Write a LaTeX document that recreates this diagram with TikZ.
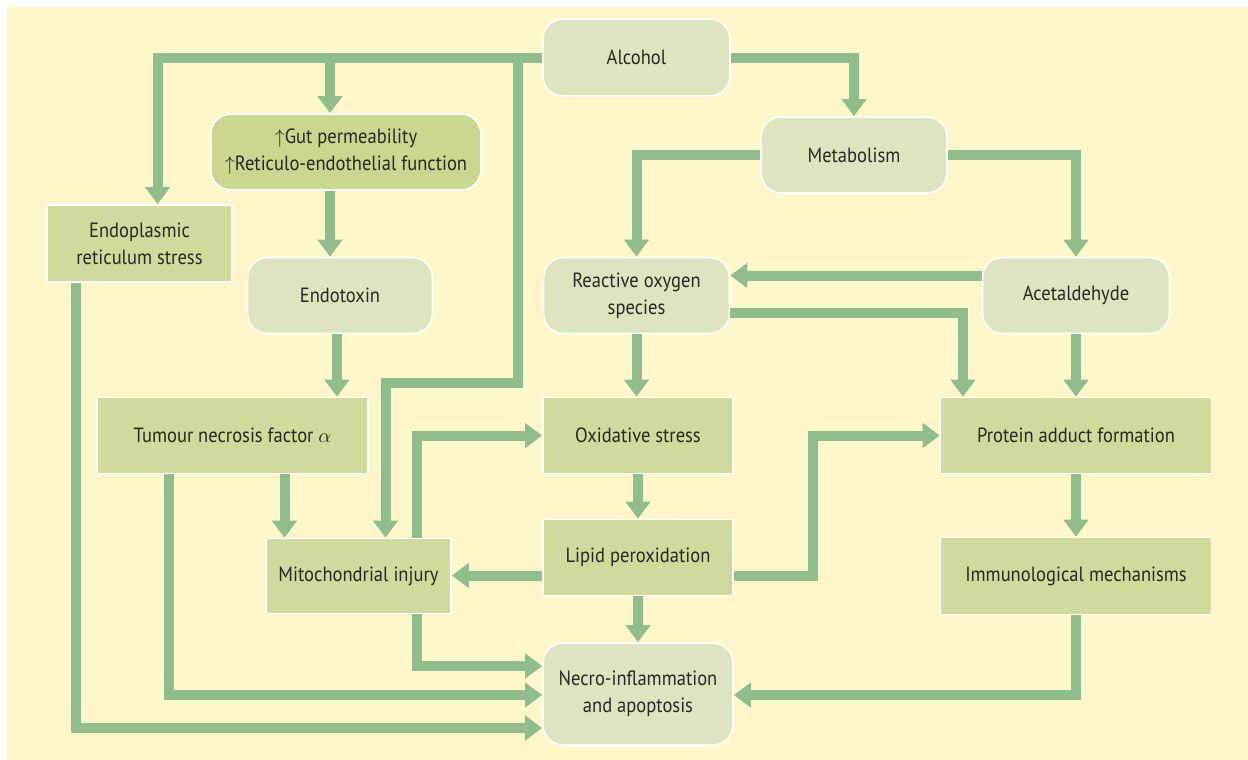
\documentclass[tikz,border=0pt]{standalone}
\usepackage{fontspec}
\setmainfont{PT Sans}[FakeStretch=0.9]
\usepackage{xcolor}
\usepackage{tikz}
\usetikzlibrary{arrows.meta}
\definecolor{bgyellow}{RGB}{255,247,202}
\definecolor{lightbox}{RGB}{221,229,192}
\definecolor{darkbox}{RGB}{206,219,155}
\definecolor{gutbox}{RGB}{201,215,143}
\definecolor{flowgreen}{RGB}{143,190,140}
\definecolor{boxtext}{RGB}{40,40,35}
\tikzset{ box/.style = {draw=white, line width=0.8pt, inner sep=0pt, align=center, text=boxtext, font=\fontsize{10.3pt}{13.5pt}\selectfont} }
\tikzset{ round_box/.style = {box, rounded corners=10pt, fill=lightbox} }
\tikzset{ rect_box/.style = {box, fill=darkbox} }
\tikzset{ flow/.style = {draw=flowgreen, line width=5pt, -{Triangle[width=12pt,length=8.5pt]}} }

\begin{document}
\begin{tikzpicture}[x=0.5pt, y=-0.5pt]
            \useasboundingbox (0,0) rectangle (1248,760);
            \fill[white] (0,0) rectangle (1248,760);
            \fill[bgyellow] (7,7) rectangle (1248,760);
            \node[round_box, minimum width=93.5pt, minimum height=38.5pt] (alc) at (636.5, 57.5) {Alcohol};
            \node[round_box, fill=gutbox, minimum width=135pt, minimum height=38pt] (gut) at (346, 152) {$\uparrow$Gut permeability\\$\uparrow$Reticulo-endothelial function};
            \node[rect_box, minimum width=92.5pt, minimum height=38.5pt] (ers) at (139.5, 243.5) {Endoplasmic\\reticulum stress};
            \node[round_box, minimum width=92.5pt, minimum height=38pt] (endo) at (340, 295.5) {Endotoxin};
            \node[round_box, minimum width=93pt, minimum height=38pt] (metab) at (854, 155) {Metabolism};
            \node[round_box, minimum width=93pt, minimum height=38pt] (ros) at (636.5, 295.5) {Reactive oxygen\\species};
            \node[round_box, minimum width=93.5pt, minimum height=38pt] (acet) at (1076, 295.5) {Acetaldehyde};
            \node[rect_box, minimum width=135.5pt, minimum height=38pt] (tnf) at (232.5, 435.5) {Tumour necrosis factor $\alpha$};
            \node[rect_box, minimum width=95pt, minimum height=38pt] (oxs) at (638, 435.5) {Oxidative stress};
            \node[rect_box, minimum width=135.5pt, minimum height=38pt] (pad) at (1076, 435.5) {Protein adduct formation};
            \node[rect_box, minimum width=92.5pt, minimum height=37.5pt] (mito) at (358.5, 576) {Mitochondrial injury};
            \node[rect_box, minimum width=95pt, minimum height=38pt] (lipid) at (638, 557.5) {Lipid peroxidation};
            \node[rect_box, minimum width=135.5pt, minimum height=38.5pt] (imm) at (1076, 576) {Immunological mechanisms};
            \node[round_box, minimum width=95pt, minimum height=51pt] (necro) at (638, 694) {Necro-inflammation\\and apoptosis};
            \coordinate (bendA) at (518, 383);
            \coordinate (bendB) at (813, 435.5);
            \draw[flow] (alc.west) -| ([xshift=9pt]ers.north);
            \draw[flow] (alc.west) -| ([xshift=-8pt]gut.north);
            \draw[flow] (alc.west) -| (bendA) -| ([xshift=13.5pt]mito.north);
            \draw[flow] (alc.east) -| (metab.north);
            \draw[flow] (metab.west) -| (ros.north);
            \draw[flow] (metab.east) -| (acet.north);
            \draw[flow] ([yshift=10pt]acet.west) -- ([yshift=10pt]ros.east);
            \draw[flow] ([yshift=-8.5pt]ros.east) -| ([xshift=-56.5pt]pad.north);
            \draw[flow] (acet.south) -- (pad.north);
            \draw[flow] ([xshift=-8pt]gut.south) -- ([xshift=-8pt]gut.south |- endo.north);
            \draw[flow] ([xshift=-1.5pt]endo.south) -- ([xshift=-1.5pt]endo.south |- tnf.north);
            \draw[flow] (ros.south) -- (ros.south |- oxs.north);
            \draw[flow] ([xshift=26pt]tnf.south) -- ([xshift=26pt]tnf.south |- mito.north);
            \draw[flow] ([xshift=-32pt]tnf.south) |- ([yshift=-0.5pt]necro.west);
            \draw[flow] ([xshift=-32pt]ers.south) |- ([yshift=-17pt]necro.west);
            \draw[flow] ([xshift=29pt]mito.south) |- ([yshift=14pt]necro.west);
            \draw[flow] ([xshift=29pt]mito.north) |- (oxs.west);
            \draw[flow] ([yshift=-9pt]lipid.west) -- ([yshift=-9pt]lipid.west -| mito.east);
            \draw[flow] (oxs.south) -- (lipid.north);
            \draw[flow] (lipid.south) -- (necro.north);
            \draw[flow] ([yshift=-9pt]lipid.east) -| (bendB) -- (pad.west);
            \draw[flow] (pad.south) -- (imm.north);
            \draw[flow] (imm.south) |- ([yshift=-0.5pt]necro.east);
        \end{tikzpicture}
\end{document}
